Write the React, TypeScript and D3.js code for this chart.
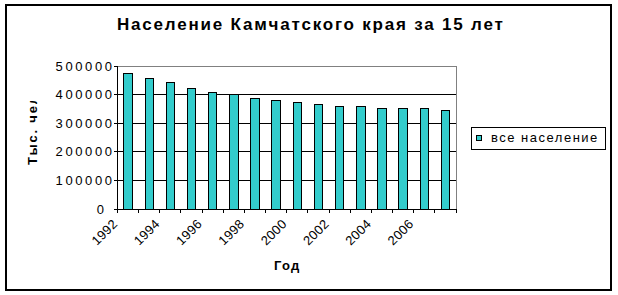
import React from "react";
import * as d3 from "d3";

const years = ["1992","1993","1994","1995","1996","1997","1998","1999","2000","2001","2002","2003","2004","2005","2006","2007"];
const population = [475000, 458000, 441000, 423000, 406000, 399000, 388000, 381000, 371000, 367000, 360000, 357000, 353000, 353000, 350000, 346000];
const yTicks = [0, 100000, 200000, 300000, 400000, 500000];
const xLabels = ["1992","1994","1996","1998","2000","2002","2004","2006"];
const title = "Население Камчатского края за 15 лет";
const yTitle = "Тыс. чел";
const xTitle = "Год";
const seriesName = "все население";

const W = 618, H = 295;
const FONT = "'Liberation Sans', Arial, sans-serif";
const BAR = "#33CCCC";

export default function App() {
  const left = 117.5, right = 456, top = 66, bottom = 209;
  const xOuter = d3.scaleBand<string>().domain(years).range([left, right]).padding(0);
  const xBar = d3.scaleBand<string>().domain(years).range([left, right]).paddingInner(0.6).paddingOuter(0.3);
  const y = d3.scaleLinear().domain([0, 500000]).range([bottom, top]);
  const bounds = years.map((yr) => xOuter(yr) as number).concat([right]);

  return (
    <svg width={W} height={H} style={{ position: "absolute", left: 0, top: 0, background: "#fff" }} fontFamily={FONT}>
      <defs>
        <clipPath id="ytclip">
          <rect x={0} y={101} width={60} height={100} />
        </clipPath>
      </defs>
      <rect x={0} y={0} width={W} height={H} fill="#fff" />
      <rect x={6} y={5} width={605} height={285} fill="none" stroke="#000" strokeWidth={2} />

      <text x={117} y={30} textAnchor="start" fontSize={17} fontWeight="bold" letterSpacing={1.8}>{title}</text>

      {/* plot border top/right */}
      <line x1={left} x2={right} y1={y(500000)} y2={y(500000)} stroke="#808080" shapeRendering="crispEdges" />
      <line x1={right} x2={right} y1={y(500000)} y2={y(0)} stroke="#808080" shapeRendering="crispEdges" />

      {yTicks.filter((t) => t > 0 && t < 500000).map((t) => (
        <line key={t} x1={left} x2={right} y1={y(t)} y2={y(t)} stroke="#000" shapeRendering="crispEdges" />
      ))}

      {years.map((yr, i) => (
        <rect key={yr} x={xBar(yr)} y={y(population[i])} width={xBar.bandwidth()} height={y(0) - y(population[i])}
          fill={BAR} stroke="#000" strokeWidth={1} shapeRendering="crispEdges" />
      ))}

      {/* axes */}
      <line x1={left} x2={left} y1={y(500000)} y2={y(0)} stroke="#000" shapeRendering="crispEdges" />
      <line x1={left} x2={right} y1={y(0)} y2={y(0)} stroke="#000" shapeRendering="crispEdges" />
      {yTicks.map((t) => (
        <g key={t}>
          <line x1={left - 4} x2={left} y1={y(t)} y2={y(t)} stroke="#000" shapeRendering="crispEdges" />
          <text x={104 + (String(t).length - 1) * 1.6 + 2.6} y={y(t)} dy="0.36em" textAnchor="end" fontSize={13} letterSpacing={2.6}>{t}</text>
        </g>
      ))}
      {bounds.map((b, i) => (
        <line key={i} x1={b} x2={b} y1={y(0)} y2={y(0) + 4} stroke="#000" shapeRendering="crispEdges" />
      ))}
      {xLabels.map((lab) => {
        const x0 = (xOuter(lab) as number) + 0.5;
        return (
          <text key={lab} transform={`translate(${x0},${225}) rotate(-45)`} textAnchor="end" fontSize={13} letterSpacing={0.3} dx={0.3}>{lab}</text>
        );
      })}

      <g clipPath="url(#ytclip)">
        <text transform={`translate(37,165) rotate(-90)`} textAnchor="start" fontSize={13} fontWeight="bold" letterSpacing={1.8}>{yTitle}</text>
      </g>
      <text x={274} y={270} textAnchor="start" fontSize={13} fontWeight="bold" letterSpacing={1.2}>{xTitle}</text>

      {/* legend */}
      <rect x={471.5} y={127.5} width={134} height={22} fill="#fff" stroke="#000" shapeRendering="crispEdges" />
      <rect x={476.5} y={135.5} width={5} height={5} fill={BAR} stroke="#000" shapeRendering="crispEdges" />
      <text x={491} y={142} fontSize={13} letterSpacing={1.5}>{seriesName}</text>
    </svg>
  );
}
